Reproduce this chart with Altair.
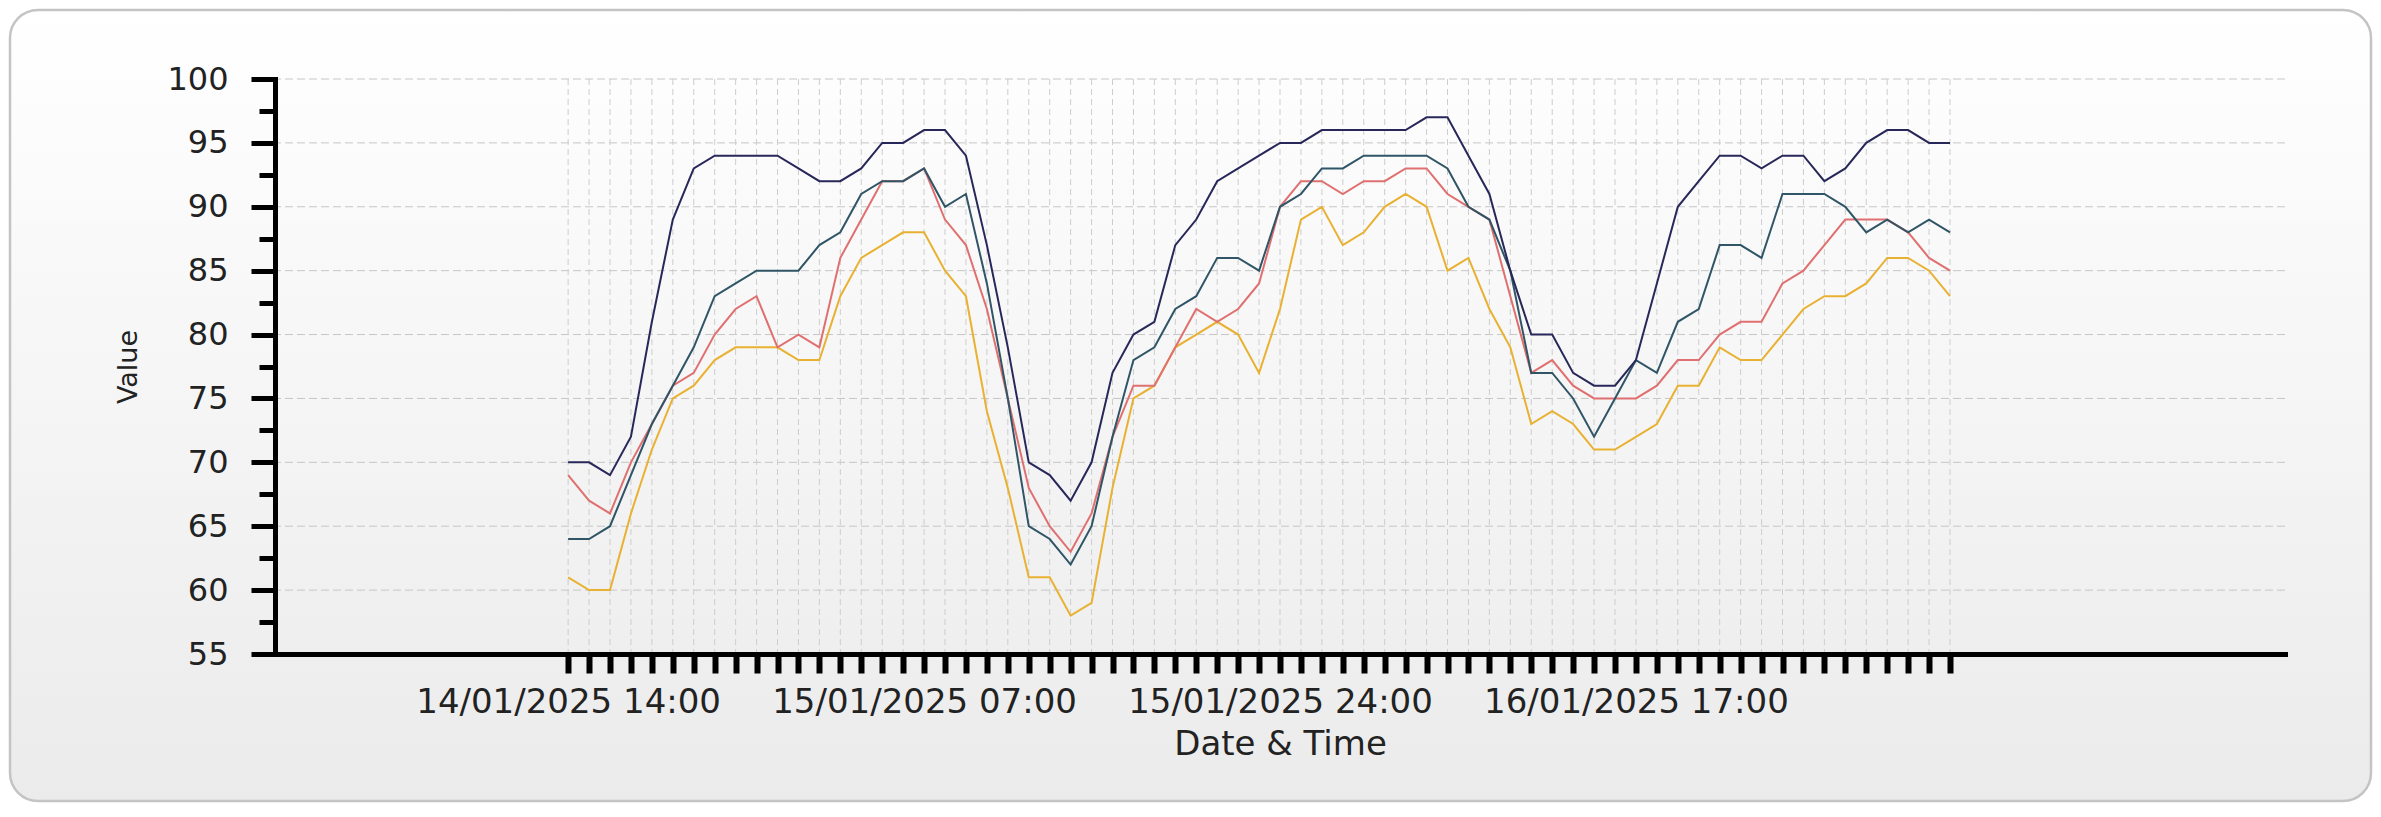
import altair as alt
import pandas as pd

# ---- data ----
hours = list(range(14, 81))  # hourly readings, hours since 14/01/2025 00:00

navy = [70, 70, 69, 72, 81, 89, 93, 94, 94, 94, 94, 93, 92, 92, 93, 95, 95, 96, 96, 94,
        87, 79, 70, 69, 67, 70, 77, 80, 81, 87, 89, 92, 93, 94, 95, 95, 96, 96, 96, 96,
        96, 97, 97, 94, 91, 85, 80, 80, 77, 76, 76, 78, 84, 90, 92, 94, 94, 93, 94, 94,
        92, 93, 95, 96, 96, 95, 95]
teal = [64, 64, 65, 69, 73, 76, 79, 83, 84, 85, 85, 85, 87, 88, 91, 92, 92, 93, 90, 91,
        84, 75, 65, 64, 62, 65, 72, 78, 79, 82, 83, 86, 86, 85, 90, 91, 93, 93, 94, 94,
        94, 94, 93, 90, 89, 85, 77, 77, 75, 72, 75, 78, 77, 81, 82, 87, 87, 86, 91, 91,
        91, 90, 88, 89, 88, 89, 88]
red = [69, 67, 66, 70, 73, 76, 77, 80, 82, 83, 79, 80, 79, 86, 89, 92, 92, 93, 89, 87,
       82, 75, 68, 65, 63, 66, 72, 76, 76, 79, 82, 81, 82, 84, 90, 92, 92, 91, 92, 92,
       93, 93, 91, 90, 89, 83, 77, 78, 76, 75, 75, 75, 76, 78, 78, 80, 81, 81, 84, 85,
       87, 89, 89, 89, 88, 86, 85]
orange = [61, 60, 60, 66, 71, 75, 76, 78, 79, 79, 79, 78, 78, 83, 86, 87, 88, 88, 85, 83,
          74, 68, 61, 61, 58, 59, 68, 75, 76, 79, 80, 81, 80, 77, 82, 89, 90, 87, 88, 90,
          91, 90, 85, 86, 82, 79, 73, 74, 73, 71, 71, 72, 73, 76, 76, 79, 78, 78, 80, 82,
          83, 83, 84, 86, 86, 85, 83]

series_names = ["Series 4", "Series 3", "Series 2", "Series 1"]   # drawing order
series_values = [orange, red, teal, navy]
series_colors = ["#e9b132", "#e07070", "#2f5566", "#28275a"]
series_widths = [2, 2, 2.5, 3]

y_major = [55, 60, 65, 70, 75, 80, 85, 90, 95, 100]
y_minor = [57.5, 62.5, 67.5, 72.5, 77.5, 82.5, 87.5, 92.5, 97.5]
grid_y = [60, 65, 70, 75, 80, 85, 90, 95, 100]
label_hours = [14, 31, 48, 65]
label_texts = ["14/01/2025 14:00", "15/01/2025 07:00", "15/01/2025 24:00", "16/01/2025 17:00"]

rows = []
for name, vals in zip(series_names, series_values):
    for h, v in zip(hours, vals):
        rows.append({"hour": h, "value": v, "series": name})
df = pd.DataFrame(rows)

W, H = 2010, 575
FONT = "DejaVu Sans"
xscale = alt.Scale(domain=[0, 96], nice=False, zero=False)
yscale = alt.Scale(domain=[55, 100], nice=False, zero=False)

label_expr = " : ".join(f"datum.value == {h} ? '{t}'" for h, t in zip(label_hours, label_texts)) + " : ''"

# ---- decorative panel ----
panel = alt.Chart(pd.DataFrame({"k": [0]})).mark_rect(
    fill=alt.LinearGradient(
        gradient="linear",
        stops=[alt.GradientStop(color="#ffffff", offset=0),
               alt.GradientStop(color="#ebebeb", offset=1)],
        x1=0, x2=0, y1=0, y2=1),
    stroke="#c4c4c4", strokeWidth=2.5, cornerRadius=28,
).encode(x=alt.value(-265), x2=alt.value(2096), y=alt.value(-69), y2=alt.value(722))

# ---- grid lines (also carries the minor y ticks) ----
hgrid = alt.Chart(pd.DataFrame({"g": grid_y})).mark_rule(
    color="#c6c6c6", strokeWidth=1, strokeDash=[8, 4]
).encode(
    y=alt.Y("g:Q", scale=yscale,
            axis=alt.Axis(orient="left", values=y_minor, tickSize=16, tickWidth=5,
                          tickColor="#000000", labels=False, domain=False, grid=False,
                          title="", zindex=1))
)

vgrid = alt.Chart(pd.DataFrame({"h": hours})).mark_rule(
    color="#cdcdcd", strokeWidth=1, strokeDash=[6, 4]
).encode(x=alt.X("h:Q", scale=xscale, axis=None))

lines = alt.Chart(df).mark_line(interpolate="linear").encode(
    x=alt.X("hour:Q", scale=xscale,
            axis=alt.Axis(orient="bottom", values=hours, tickSize=19, tickWidth=6,
                          tickColor="#000000", domainColor="#000000", domainWidth=5,
                          domainCap="square",
                          labelExpr=label_expr, labelOverlap=False, labelFlush=False,
                          labelBaseline="alphabetic", labelPadding=39, labelFontSize=34,
                          labelLimit=0, grid=False,
                          title="Date & Time", titleX=1005, titleY=100,
                          titleBaseline="alphabetic", titleAlign="center",
                          titleFontSize=34, zindex=1)),
    y=alt.Y("value:Q", scale=yscale,
            axis=alt.Axis(orient="left", values=y_major, tickSize=24, tickWidth=5,
                          tickColor="#000000", domainColor="#000000", domainWidth=5,
                          domainCap="square",
                          labelPadding=23, labelFontSize=32, grid=False,
                          title="Value", titleX=-147, titleY=287.5, titleAngle=270,
                          titleAlign="center", titleBaseline="middle",
                          titleFontSize=27, zindex=1)),
    color=alt.Color("series:N", scale=alt.Scale(domain=series_names, range=series_colors),
                    legend=None),
    strokeWidth=alt.StrokeWidth("series:N",
                                scale=alt.Scale(domain=series_names, range=series_widths),
                                legend=None),
)

chart = alt.layer(panel, hgrid, vgrid, lines).resolve_axis(
    x="independent", y="independent"
).properties(
    width=W, height=H,
    autosize=alt.AutoSizeParams(type="none"),
    padding={"left": 267, "top": 71, "right": 88, "bottom": 149},
    background="#ffffff",
).configure_view(strokeWidth=0).configure_axis(
    labelFont=FONT, titleFont=FONT, labelColor="#222222", titleColor="#222222",
    titleFontWeight="normal",
)

chart.save("out.html", embed_options={"renderer": "svg", "actions": False})
